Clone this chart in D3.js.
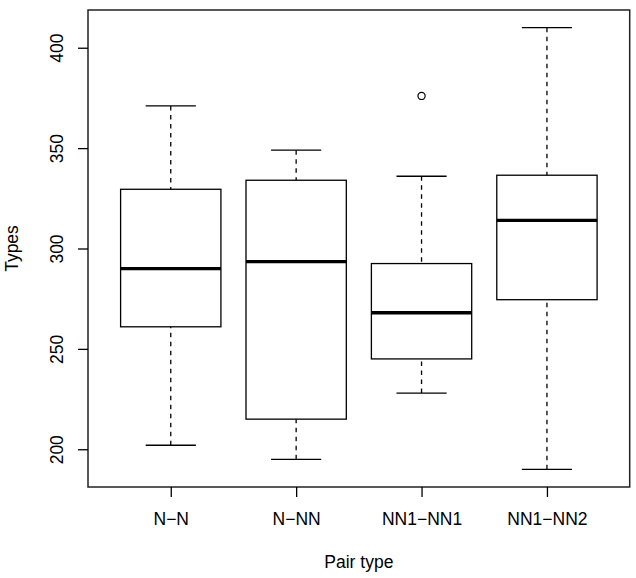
<!DOCTYPE html>
<html>
<head>
<meta charset="utf-8">
<script src="https://cdn.jsdelivr.net/npm/d3@7"></script>
<style>
  body { margin: 0; background: #fff; }
  text { font-family: "Liberation Sans", Arial, sans-serif; fill: #000; }
</style>
</head>
<body>
<script>
// box stats
var categories = ["N\u2212N", "N\u2212NN", "NN1\u2212NN1", "NN1\u2212NN2"];
var whiskerLow = [202, 195, 228, 190];
var q1 = [261, 215, 245, 274.5];
var median = [290, 293.5, 268, 314];
var q3 = [329.5, 334, 292.5, 336.5];
var whiskerHigh = [371, 349, 336, 410];
var outliers = [[], [], [376], []];
var yTicks = [200, 250, 300, 350, 400];

var W = 636, H = 578;
var margin = { left: 88, right: 629.7, top: 10, bottom: 487 };

var svg = d3.select("body").append("svg")
    .attr("width", W)
    .attr("height", H);

// R style: 4% padding around the data range
var x = d3.scaleLinear()
    .domain([0.34, categories.length + 0.66])
    .range([margin.left, margin.right]);

var y = d3.scaleLinear()
    .domain([181.2, 418.8])
    .range([margin.bottom, margin.top]);

var boxW = 0.8, capW = 0.4;

var data = categories.map(function (c, i) {
    return { name: c, pos: i + 1, lo: whiskerLow[i], q1: q1[i], med: median[i],
             q3: q3[i], hi: whiskerHigh[i], out: outliers[i] };
});

var g = svg.selectAll(".box").data(data).enter().append("g").attr("class", "box");

// whiskers (dashed, drawn from the end toward the box)
g.append("line")
    .attr("x1", function (d) { return x(d.pos) }).attr("x2", function (d) { return x(d.pos) })
    .attr("y1", function (d) { return y(d.hi) }).attr("y2", function (d) { return y(d.q3) })
    .attr("stroke", "#000").attr("stroke-width", 1.3).attr("stroke-dasharray", "4.5,4.5");
g.append("line")
    .attr("x1", function (d) { return x(d.pos) }).attr("x2", function (d) { return x(d.pos) })
    .attr("y1", function (d) { return y(d.lo) }).attr("y2", function (d) { return y(d.q1) })
    .attr("stroke", "#000").attr("stroke-width", 1.3).attr("stroke-dasharray", "4.5,4.5");

// caps
["hi", "lo"].forEach(function (k) {
    g.append("line")
        .attr("x1", function (d) { return x(d.pos - capW / 2) })
        .attr("x2", function (d) { return x(d.pos + capW / 2) })
        .attr("y1", function (d) { return y(d[k]) })
        .attr("y2", function (d) { return y(d[k]) })
        .attr("stroke", "#000").attr("stroke-width", 1.3);
});

// boxes
g.append("rect")
    .attr("x", function (d) { return x(d.pos - boxW / 2) })
    .attr("width", function (d) { return x(d.pos + boxW / 2) - x(d.pos - boxW / 2) })
    .attr("y", function (d) { return y(d.q3) })
    .attr("height", function (d) { return y(d.q1) - y(d.q3) })
    .attr("fill", "#fff").attr("stroke", "#000").attr("stroke-width", 1.3);

// medians
g.append("line")
    .attr("x1", function (d) { return x(d.pos - boxW / 2) })
    .attr("x2", function (d) { return x(d.pos + boxW / 2) })
    .attr("y1", function (d) { return y(d.med) })
    .attr("y2", function (d) { return y(d.med) })
    .attr("stroke", "#000").attr("stroke-width", 3.3);

// outliers
g.selectAll("circle").data(function (d) {
        return d.out.map(function (v) { return { pos: d.pos, v: v } });
    }).enter().append("circle")
    .attr("cx", function (d) { return x(d.pos) })
    .attr("cy", function (d) { return y(d.v) })
    .attr("r", 3.6)
    .attr("fill", "none").attr("stroke", "#000").attr("stroke-width", 1.2);

// frame
svg.append("rect")
    .attr("x", margin.left).attr("y", margin.top)
    .attr("width", margin.right - margin.left).attr("height", margin.bottom - margin.top)
    .attr("fill", "none").attr("stroke", "#222").attr("stroke-width", 1.5);

// y axis
var yAxis = svg.append("g")
    .attr("transform", "translate(" + margin.left + ",0)")
    .call(d3.axisLeft(y).tickValues(yTicks).tickSize(10).tickSizeOuter(0));
yAxis.select(".domain").remove();
yAxis.selectAll("line").attr("stroke", "#000").attr("stroke-width", 1.3);
yAxis.selectAll("text")
    .attr("x", null).attr("dy", null)
    .attr("transform", "translate(-25.3,0) rotate(-90)")
    .attr("text-anchor", "middle")
    .style("font-size", "17.5px")
    .style("font-family", "Liberation Sans, Arial, sans-serif");

// x axis
var xAxis = svg.append("g")
    .attr("transform", "translate(0," + margin.bottom + ")")
    .call(d3.axisBottom(x).tickValues([1, 2, 3, 4])
        .tickFormat(function (d) { return categories[d - 1] })
        .tickSize(10).tickSizeOuter(0));
xAxis.select(".domain").remove();
xAxis.selectAll("line").attr("stroke", "#000").attr("stroke-width", 1.3);
xAxis.selectAll("text")
    .attr("y", 38).attr("dy", null)
    .style("font-size", "17.5px")
    .style("font-family", "Liberation Sans, Arial, sans-serif");

// axis titles
svg.append("text")
    .attr("x", (margin.left + margin.right) / 2).attr("y", 567.5)
    .attr("text-anchor", "middle")
    .style("font-size", "17.5px")
    .text("Pair type");

svg.append("text")
    .attr("transform", "translate(17.6," + (margin.top + margin.bottom) / 2 + ") rotate(-90)")
    .attr("text-anchor", "middle")
    .style("font-size", "17.5px")
    .text("Types");
</script>
</body>
</html>
